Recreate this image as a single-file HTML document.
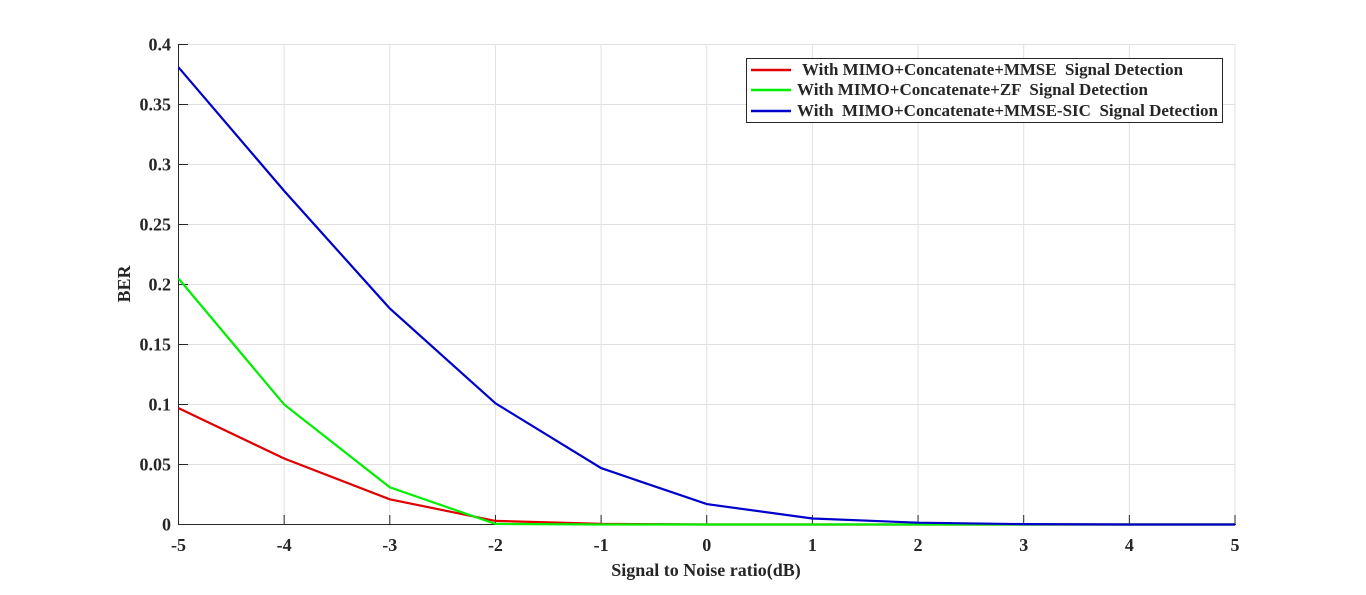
<!DOCTYPE html>
<html><head><meta charset="utf-8"><style>
body{margin:0;background:#fff;width:1366px;height:590px;overflow:hidden}
svg text{font-family:"Liberation Serif",serif;font-weight:bold;fill:#262626}
</style></head><body>
<svg width="1366" height="590">
<g id="grid"></g>
<g id="axes"></g>
<g id="series"></g>
<text x="706" y="576" font-size="18" text-anchor="middle">Signal to Noise ratio(dB)</text>
<text transform="translate(130,284) rotate(-90)" font-size="18" text-anchor="middle">BER</text>
<g>
<rect x="746.5" y="58.5" width="476" height="64" fill="#fff" stroke="#262626" stroke-width="1"/>
<g><line x1="751" y1="70" x2="791" y2="70" stroke="#e00000" stroke-width="2.5"/><text x="802" y="75" font-size="16.5" xml:space="preserve" textLength="381" lengthAdjust="spacingAndGlyphs">With MIMO+Concatenate+MMSE  Signal Detection</text></g>
<g><line x1="751" y1="90" x2="791" y2="90" stroke="#00ee00" stroke-width="2.5"/><text x="797" y="95" font-size="16.5" xml:space="preserve" textLength="351" lengthAdjust="spacingAndGlyphs">With MIMO+Concatenate+ZF  Signal Detection</text></g>
<g><line x1="751" y1="111" x2="791" y2="111" stroke="#0000cc" stroke-width="2.5"/><text x="797" y="116" font-size="16.5" xml:space="preserve" textLength="421" lengthAdjust="spacingAndGlyphs">With  MIMO+Concatenate+MMSE-SIC  Signal Detection</text></g>
</g>
</svg>
<script>
const snr=[-5,-4,-3,-2,-1,0,1,2,3,4,5];
const mmse=[0.097,0.055,0.021,0.003,0.0005,0,0,0,0,0,0];
const zf=[0.205,0.1,0.031,0.0005,0,0,0,0,0,0,0];
const sic=[0.381,0.278,0.18,0.101,0.047,0.017,0.005,0.0015,0.0003,0,0];
const xTicks=[-5,-4,-3,-2,-1,0,1,2,3,4,5];
const yTicks=[0,0.05,0.1,0.15,0.2,0.25,0.3,0.35,0.4];
const yLabels=["0","0.05","0.1","0.15","0.2","0.25","0.3","0.35","0.4"];
const NS="http://www.w3.org/2000/svg";
const X=v=>178.5+(v+5)*105.65, Y=v=>524.5-v*1200;
function mk(t,a,p){const e=document.createElementNS(NS,t);for(const k in a)e.setAttribute(k,a[k]);p.appendChild(e);return e;}
const g=document.getElementById('grid'),ax=document.getElementById('axes'),s=document.getElementById('series');
xTicks.forEach(v=>{
 const l=mk('line',{x1:X(v),x2:X(v),y1:44,y2:524.5,stroke:'#e0e0e0','stroke-width':1},g);
 
 
 mk('line',{x1:X(v),x2:X(v),y1:524.5,y2:515,stroke:'#262626'},ax);
 const t=mk('text',{x:X(v),y:551,'font-size':18,'text-anchor':'middle'},ax);t.textContent=v;
 
 
});
yTicks.forEach((v,i)=>{
 const l=mk('line',{x1:178.5,x2:1235,y1:Y(v),y2:Y(v),stroke:'#e0e0e0','stroke-width':1},g);
 
 
 mk('line',{x1:178.5,x2:188,y1:Y(v),y2:Y(v),stroke:'#262626'},ax);
 const t=mk('text',{x:171,y:Y(v)+6,'font-size':18,'text-anchor':'end'},ax);t.textContent=yLabels[i];
 
 
});
mk('line',{x1:178.5,x2:178.5,y1:44,y2:525,stroke:'#262626'},ax);
mk('line',{x1:178,x2:1236,y1:524.5,y2:524.5,stroke:'#262626'},ax);
[[mmse,'#e00000','line-mmse'],[zf,'#00ee00','line-zf'],[sic,'#0000cc','line-mmse-sic']].forEach(([d,c,n])=>{
 const p=mk('polyline',{points:snr.map((x,i)=>X(x)+','+Y(d[i])).join(' '),fill:'none',stroke:c,'stroke-width':2.2},s);
 
 
});
</script>
</body></html>
